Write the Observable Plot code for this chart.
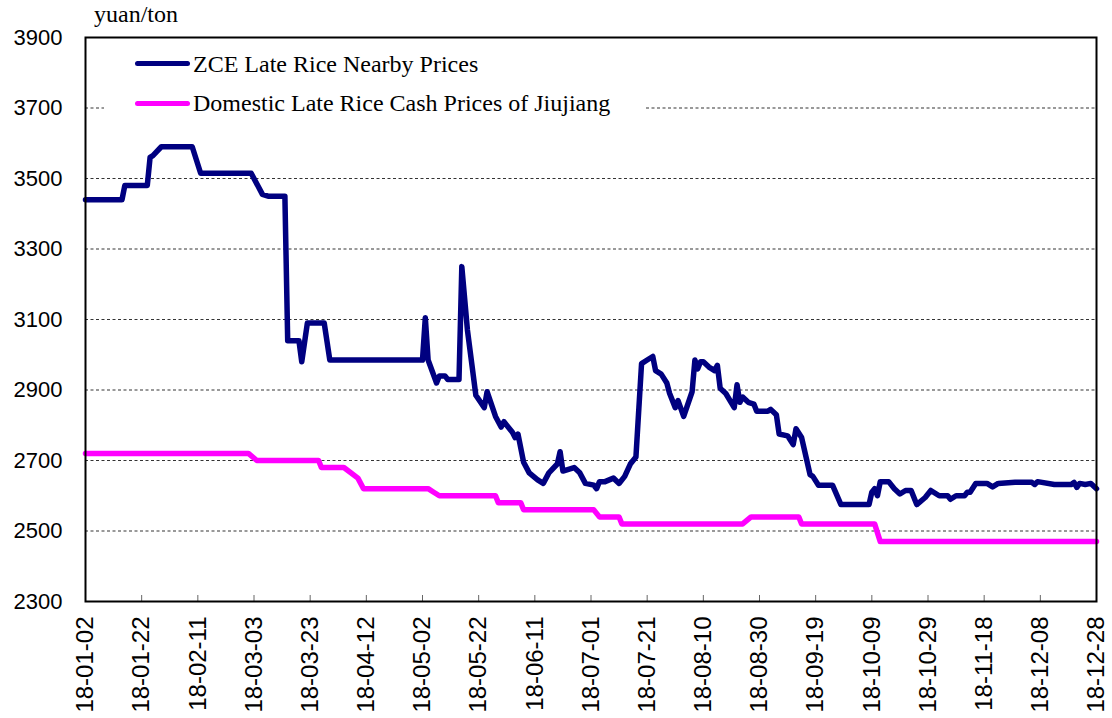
<!DOCTYPE html>
<html>
<head>
<meta charset="utf-8">
<script src="https://cdn.jsdelivr.net/npm/d3@7"></script>
<script src="https://cdn.jsdelivr.net/npm/@observablehq/plot@0.6"></script>
<style>
  html, body { margin: 0; padding: 0; background: white; }
  #wrap { position: relative; width: 1112px; height: 718px; overflow: hidden; }
  .unit { position: absolute; left: 94px; top: 2px; font: 24px/24px "Liberation Serif", "Times New Roman", serif; color: #000; white-space: nowrap; }
  .legend { position: absolute; left: 104px; top: 41px; width: 541px; height: 84px; background: white; }
  .lg-line { position: absolute; left: 31px; width: 55px; height: 5px; border-radius: 2.5px; }
  .lg-text { position: absolute; left: 89px; font: 24px/24px "Liberation Serif", "Times New Roman", serif; color: #000; white-space: nowrap; }
</style>
</head>
<body>
<div id="wrap">
  <div id="chart"></div>
  <div class="unit">yuan/ton</div>
  <div class="legend" id="legend"></div>
</div>
<script>
// ---- data ----
const seriesNames = ["ZCE Late Rice Nearby Prices", "Domestic Late Rice Cash Prices of Jiujiang"];
const seriesColors = ["#000080", "#FF00FF"];

const zceDates = [
  "2018-01-02","2018-01-15","2018-01-16","2018-01-24","2018-01-25","2018-01-26","2018-01-29","2018-02-09","2018-02-12","2018-03-02",
  "2018-03-06","2018-03-08","2018-03-14","2018-03-15","2018-03-19","2018-03-20","2018-03-22","2018-03-28","2018-03-30","2018-05-02",
  "2018-05-03","2018-05-04","2018-05-07","2018-05-08","2018-05-10","2018-05-11","2018-05-15","2018-05-16","2018-05-18","2018-05-21",
  "2018-05-24","2018-05-25","2018-05-28","2018-05-30","2018-05-31","2018-06-03","2018-06-04","2018-06-05","2018-06-07","2018-06-09",
  "2018-06-12","2018-06-14","2018-06-16","2018-06-19","2018-06-20","2018-06-21","2018-06-23","2018-06-25","2018-06-27","2018-06-29",
  "2018-07-02","2018-07-03","2018-07-04","2018-07-06","2018-07-09","2018-07-11","2018-07-13","2018-07-15","2018-07-17","2018-07-19",
  "2018-07-21","2018-07-23","2018-07-24","2018-07-26","2018-07-28","2018-07-29","2018-07-31","2018-08-01","2018-08-03","2018-08-06",
  "2018-08-07","2018-08-08","2018-08-09","2018-08-10","2018-08-12","2018-08-14","2018-08-15","2018-08-16","2018-08-18","2018-08-21",
  "2018-08-22","2018-08-23","2018-08-24","2018-08-26","2018-08-28","2018-08-29","2018-09-02","2018-09-03","2018-09-05","2018-09-06",
  "2018-09-09","2018-09-11","2018-09-12","2018-09-14","2018-09-17","2018-09-18","2018-09-20","2018-09-25","2018-09-28","2018-10-08",
  "2018-10-09","2018-10-10","2018-10-11","2018-10-12","2018-10-15","2018-10-17","2018-10-19","2018-10-21","2018-10-23","2018-10-25",
  "2018-10-28","2018-10-30","2018-10-31","2018-11-02","2018-11-05","2018-11-06","2018-11-08","2018-11-11","2018-11-12","2018-11-13",
  "2018-11-15","2018-11-19","2018-11-21","2018-11-23","2018-11-29","2018-12-05","2018-12-06","2018-12-07","2018-12-13","2018-12-19",
  "2018-12-20","2018-12-21","2018-12-22","2018-12-24","2018-12-26","2018-12-28"
];
const zcePrices = [
  3440,3440,3480,3480,3560,3565,3590,3590,3515,3515,
  3455,3450,3450,3040,3040,2980,3090,3090,2985,2985,
  3105,2985,2920,2940,2940,2930,2930,3250,3070,2885,
  2850,2895,2825,2795,2810,2780,2765,2775,2695,2665,
  2645,2635,2665,2690,2725,2670,2675,2680,2665,2635,
  2630,2620,2640,2640,2650,2635,2655,2690,2710,2975,
  2985,2995,2955,2945,2920,2890,2850,2870,2825,2895,
  2985,2960,2980,2980,2965,2955,2970,2905,2890,2850,
  2915,2865,2880,2865,2860,2840,2840,2845,2830,2775,
  2770,2745,2790,2765,2660,2655,2630,2630,2575,2575,
  2610,2620,2600,2640,2640,2620,2605,2615,2615,2575,
  2595,2615,2610,2600,2600,2590,2600,2600,2610,2610,
  2635,2635,2625,2635,2638,2638,2632,2640,2632,2632,
  2638,2624,2635,2632,2635,2620
];

const cashDates = [
  "2018-01-02","2018-03-01","2018-03-04","2018-03-26","2018-03-27","2018-04-04","2018-04-09","2018-04-11","2018-05-04","2018-05-06",
  "2018-05-08","2018-05-28","2018-05-29","2018-06-06","2018-06-07","2018-07-02","2018-07-04","2018-07-11","2018-07-12","2018-08-24",
  "2018-08-27","2018-09-13","2018-09-14","2018-10-10","2018-10-12","2018-12-28"
];
const cashPrices = [
  2720,2720,2700,2700,2680,2680,2650,2620,2620,2610,
  2600,2600,2580,2580,2560,2560,2540,2540,2520,2520,
  2540,2540,2520,2520,2470,2470
];

const xTickLabels = [
  "2018-01-02","2018-01-22","2018-02-11","2018-03-03","2018-03-23","2018-04-12","2018-05-02","2018-05-22","2018-06-11","2018-07-01",
  "2018-07-21","2018-08-10","2018-08-30","2018-09-19","2018-10-09","2018-10-29","2018-11-18","2018-12-08","2018-12-28"
];
const yTicks = [2300, 2500, 2700, 2900, 3100, 3300, 3500, 3700, 3900];
const yGrid = [2500, 2700, 2900, 3100, 3300, 3500, 3700];

// ---- build ----
const parse = d3.utcParse("%Y-%m-%d");
const zce = zceDates.map((d, i) => ({date: parse(d), value: zcePrices[i]}));
const cash = cashDates.map((d, i) => ({date: parse(d), value: cashPrices[i]}));
const xTicks = xTickLabels.map(parse);

const W = 1112, H = 718, mT = 37, mB = 117, mL = 85, mR = 16;
const plotH = H - mT - mB;

const chart = Plot.plot({
  width: W, height: H,
  marginLeft: mL, marginRight: mR, marginTop: mT, marginBottom: mB,
  style: {fontFamily: "'Liberation Sans', Arial, sans-serif", fontSize: "22px", color: "black", background: "white"},
  x: {type: "utc", domain: [xTicks[0], xTicks[xTicks.length - 1]], label: null},
  y: {domain: [yTicks[0], yTicks[yTicks.length - 1]], label: null},
  marks: [
    Plot.ruleY(yGrid, {stroke: "#000", strokeOpacity: 0.8, strokeDasharray: "3,2.5", strokeWidth: 1}),
    Plot.tickX(xTicks, {x: d => d, stroke: "#666", strokeWidth: 1, insetTop: plotH - 6}),
    Plot.line(cash, {x: "date", y: "value", stroke: seriesColors[1], strokeWidth: 5.5, strokeLinejoin: "round", strokeLinecap: "round"}),
    Plot.line(zce, {x: "date", y: "value", stroke: seriesColors[0], strokeWidth: 5.5, strokeLinejoin: "round", strokeLinecap: "round"}),
    Plot.frame({stroke: "black", strokeWidth: 2}),
    Plot.axisY(yTicks, {tickSize: 0, tickPadding: 23, fontSize: 22, tickFormat: d => String(d), label: null}),
    Plot.axisX(xTicks, {tickSize: 0, tickPadding: 15, tickRotate: -90, tickFormat: d3.utcFormat("%y-%m-%d"), fontSize: 24, label: null})
  ]
});
document.getElementById("chart").appendChild(chart);

// ---- legend ----
const legend = document.getElementById("legend");
const lineTops = [19.5, 60];
const textTops = [10.5, 49.5];
seriesNames.forEach((name, i) => {
  const ln = document.createElement("div");
  ln.className = "lg-line";
  ln.style.top = lineTops[i] + "px";
  ln.style.background = seriesColors[i];
  legend.appendChild(ln);
  const tx = document.createElement("div");
  tx.className = "lg-text";
  tx.style.top = textTops[i] + "px";
  tx.textContent = name;
  legend.appendChild(tx);
});
</script>
</body>
</html>
